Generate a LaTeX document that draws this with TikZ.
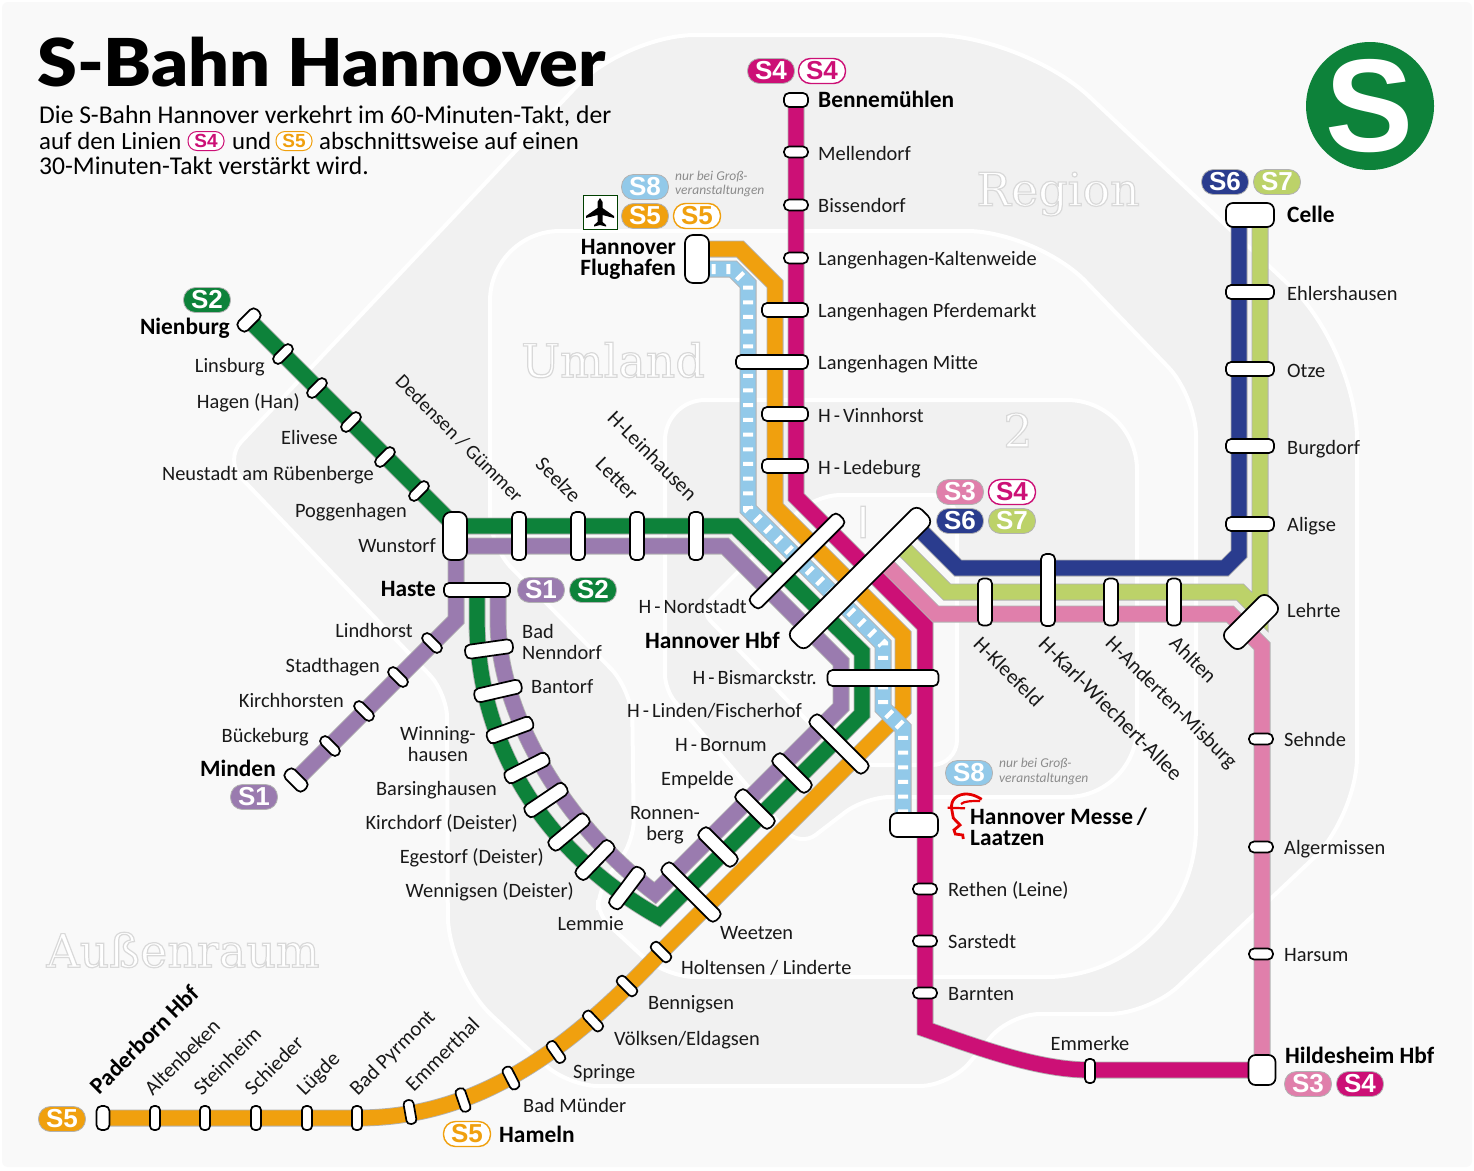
\documentclass[tikz,border=0pt]{standalone}
\usepackage{fontspec}
\setmainfont{Carlito}
\newfontfamily\pillfont{Liberation Sans}
\newfontfamily\zonefont{DejaVu Serif}
\newfontfamily\titlefont[FakeStretch=1.09]{Lato Black}
\newcommand{\Hy}{\kern3pt-\kern3pt}
\newcommand{\hollow}[1]{\special{pdf:code 2 Tr 1.2 w 0.85 G}#1\special{pdf:code 0 Tr}}
\definecolor{cS1}{HTML}{9A7BAF}
\definecolor{cS2}{HTML}{0D823A}
\definecolor{cS3}{HTML}{E07FAB}
\definecolor{cS4}{HTML}{CC1076}
\definecolor{cS5}{HTML}{F0A00E}
\definecolor{cS6}{HTML}{2A3C8E}
\definecolor{cS7}{HTML}{BCD269}
\definecolor{cS8}{HTML}{92C9E9}
\definecolor{zonedark}{HTML}{F1F1F1}
\definecolor{zonelight}{HTML}{F9F9F9}
\tikzset{
  zone/.style={draw=white,line width=4pt,fill=#1},
  zonename/.style={inner sep=0pt,text=white,font=\zonefont\fontsize{#1}{#1}\selectfont},
  casing/.style={draw=black!30,line width=17pt},
  strecke/.style={draw=#1,line width=15.3pt},
  s8dash/.style={draw=white,line width=10pt,dash pattern=on 4pt off 10.7pt},
  halt/.style 2 args={draw=black,line width=1.7pt,fill=white,rectangle,rounded corners=5pt,inner sep=0pt,minimum width=#1pt,minimum height=#2pt},
  pill/.style={rectangle,rounded corners=12pt,draw=black!30,line width=0.8pt,fill=#1,text=white,inner sep=0pt,minimum width=47pt,minimum height=25pt,font=\pillfont\bfseries\fontsize{26}{26}\selectfont},
  ring/.style={pill=white,draw=#1,line width=1.4pt,text=#1},
  minipill/.style={rectangle,rounded corners=9pt,draw=#1,line width=1pt,fill=white,text=#1,inner sep=0pt,minimum width=36pt,minimum height=19pt,font=\pillfont\bfseries\fontsize{19}{19}\selectfont},
  lbl/.style={inner sep=0pt,text=black!90,font=\fontsize{20.4}{20.4}\selectfont},
  lblb/.style={inner sep=0pt,text=black,font=\bfseries\fontsize{23.4}{23.4}\selectfont},
  rw/.style={lbl,anchor=base west,yshift=-7.5pt},
  re/.style={lbl,anchor=base east,yshift=-7.5pt},
  rc/.style={lbl,anchor=base,yshift=-7.5pt},
  bw/.style={lblb,anchor=base west,yshift=-7.5pt},
  be/.style={lblb,anchor=base east,yshift=-7.5pt},
  slant/.style={inner sep=0pt,anchor=mid west,text=black!90,font=\fontsize{21}{21}\selectfont},
  intro/.style={inner sep=0pt,anchor=base west,text=black,font=\fontsize{25.6}{25.6}\selectfont},
  introb/.style={intro,font=\fontsize{24.8}{24.8}\selectfont},
  hint/.style={inner sep=0pt,anchor=mid west,text=black!45,font=\itshape\fontsize{13.5}{13.5}\selectfont},
}
\newcommand{\linie}[2]{\draw[casing] #2; \draw[strecke=#1] #2;}
\begin{document}
\begin{tikzpicture}[x=1pt,y=-1pt,line join=miter]
\useasboundingbox (0,0) rectangle (1474,1170);
\fill[white] (0,0) rectangle (1474,1170);
\fill[zonelight,rounded corners=6pt] (2,2) rectangle (1472,1167);

% zones
\draw[zone=zonedark,rounded corners=70pt] (800,35) -- (625,35) [rounded corners=25pt] -- (224,460) -- (447,693) [rounded corners=60pt] -- (448,975) [rounded corners=30pt] -- (568,1086) -- (950,1086) -- (1010,1014) [rounded corners=40pt] -- (1149,1014) [rounded corners=60pt] -- (1357,817) [rounded corners=90pt] -- (1357,349) -- (1024,35) -- cycle;
\draw[zone=zonelight,rounded corners=70pt] (800,231) -- (490,231) [rounded corners=30pt] -- (490,546) -- (632,690) [rounded corners=20pt] -- (634,840) -- (598,890) [rounded corners=15pt] -- (598,915) [rounded corners=30pt] -- (665,977) [rounded corners=150pt] -- (1196,977) [rounded corners=40pt] -- (1196,396) [rounded corners=70pt] -- (1037,231) -- cycle;
\draw[zone=zonedark,rounded corners=40pt] (800,400) -- (665,400) [rounded corners=15pt] -- (665,690) [rounded corners=20pt] -- (800,847) [rounded corners=25pt] -- (865,797) [rounded corners=70pt] -- (1137,797) -- (1137,400) -- cycle;
\draw[zone=zonelight,rounded corners=25pt] (880,495) -- (957,495) -- (957,765) -- (850,765) [rounded corners=15pt] -- (700,610) [rounded corners=25pt] -- (815,495) -- cycle;

\node[zonename=46] (zregion) at (1058,194) {\hollow{Region}};
\node[zonename=46] (zumland) at (613,360) {\hollow{Umland}};
\node[zonename=46] (zaussen) at (183,950) {\hollow{Außenraum}};
\node[zonename=46] (zzwei) at (1018,430) {\hollow{2}};
\node[zonename=46,font=\pillfont\fontsize{46}{46}\selectfont] (zeins) at (863,522) {\hollow{I}};

% corner points of the lines
\coordinate (s5a) at (697,249);
\coordinate (s5b) at (740,249);
\coordinate (s5c) at (775,284);
\coordinate (s5d) at (775,507);
\coordinate (s5e) at (903,635);
\coordinate (s5f) at (903,710);
\coordinate (s5g) at (661,952);
\coordinate (s5h) at (357,1118);
\coordinate (s5i) at (103,1118);
\coordinate (s8a) at (697,269);
\coordinate (s8b) at (733,269);
\coordinate (s8c) at (748,284);
\coordinate (s8d) at (748,509);
\coordinate (s8e) at (883,644);
\coordinate (s8f) at (883,708);
\coordinate (s8g) at (903,728);
\coordinate (s8h) at (903,825);
\coordinate (s4a) at (796,100);
\coordinate (s4b) at (796,497);
\coordinate (s4c) at (925,626);
\coordinate (s4d) at (925,1029);
\coordinate (s4e) at (1090,1070);
\coordinate (s4f) at (1262,1070);
\coordinate (s2a) at (249,320);
\coordinate (s2b) at (455,526);
\coordinate (s2c) at (735,526);
\coordinate (s2d) at (862,652);
\coordinate (s2e) at (862,714);
\coordinate (s2f) at (659,917);
\coordinate (s2g) at (477,620);
\coordinate (s2h) at (477,590);
\coordinate (s1a) at (296,780);
\coordinate (s1b) at (456,620);
\coordinate (s1c) at (456,546);
\coordinate (s1d) at (725,546);
\coordinate (s1e) at (841,662);
\coordinate (s1f) at (841,707);
\coordinate (s1g) at (655,893);
\coordinate (s1h) at (498,620);
\coordinate (s1i) at (498,590);
\coordinate (s3a) at (885,564);
\coordinate (s3b) at (935,614);
\coordinate (s3c) at (1230,614);
\coordinate (s3d) at (1262,646);
\coordinate (s7a) at (897,542);
\coordinate (s7b) at (947,592);
\coordinate (s7c) at (1240,592);
\coordinate (s7d) at (1260,612);
\coordinate (s7e) at (1260,215);
\coordinate (s6a) at (915,525);
\coordinate (s6b) at (958,568);
\coordinate (s6c) at (1225,568);
\coordinate (s6d) at (1239,554);
\coordinate (s6e) at (1239,215);

% lines
\linie{cS6}{(s6a) -- (s6b) -- (s6c) -- (s6d) -- (s6e)}
\linie{cS7}{(s7e) -- (s7d) -- (s7c) -- (s7b) -- (s7a)}
\linie{cS3}{(s3a) -- (s3b) -- (s3c) -- (s3d) -- (s4f)}
\linie{cS4}{(s4a) -- (s4b) -- (s4c) -- (s4d) .. controls (985,1050) and (1040,1070) .. (s4e) -- (s4f)}
\linie{cS5}{(s5a) -- (s5b) -- (s5c) -- (s5d) -- (s5e) -- (s5f) -- (s5g) .. controls (560,1060) and (470,1118) .. (s5h) -- (s5i)}
\linie{cS8}{(s8a) -- (s8b) -- (s8c) -- (s8d) -- (s8e) -- (s8f) -- (s8g) -- (s8h)}
\draw[s8dash] (s8a) -- (s8b) -- (s8c) -- (s8d) -- (s8e) -- (s8f) -- (s8g) -- (s8h);
\linie{cS2}{(s2a) -- (s2b) -- (s2c) -- (s2d) -- (s2e) -- (s2f) .. controls (540,850) and (477,740) .. (s2g) -- (s2h)}
\linie{cS1}{(s1a) -- (s1b) -- (s1c) -- (s1d) -- (s1e) -- (s1f) -- (s1g) .. controls (565,825) and (498,715) .. (s1h) -- (s1i)}

% stations
\node[halt={24}{14}] (bennemuehlen) at (796,100) {};
\node[halt={24}{11}] (mellendorf) at (796,152) {};
\node[halt={24}{11}] (bissendorf) at (796,205) {};
\node[halt={24}{11}] (kaltenweide) at (796,258) {};
\node[halt={46}{14}] (pferdemarkt) at (785,310) {};
\node[halt={72}{14}] (mitte) at (772,362) {};
\node[halt={46}{14}] (vinnhorst) at (785,414) {};
\node[halt={46}{14}] (ledeburg) at (785,466) {};
\node[halt={24}{48},rounded corners=8pt] (flughafen) at (697,259) {};
\node[halt={48}{24},rounded corners=7pt] (celle) at (1250,215) {};
\foreach \nm/\y in {ehlershausen/292,otze/369,burgdorf/446,aligse/524}
  \node[halt={48}{14}] (\nm) at (1250,\y) {};
\node[halt={24}{48},rounded corners=8pt] (wunstorf) at (455,536) {};
\foreach \nm/\x in {dedensen/519,seelze/578,letter/637,leinhausen/696}
  \node[halt={14}{48}] (\nm) at (\x,536) {};
\node[halt={66}{14}] (haste) at (477,590) {};
\node[halt={48}{14},rotate=8] (nenndorf) at (489,649) {};
\node[halt={48}{14},rotate=13] (bantorf) at (498,691) {};
\node[halt={48}{14},rotate=20] (winninghausen) at (510,730) {};
\node[halt={48}{14},rotate=27] (barsinghausen) at (527,768) {};
\node[halt={48}{14},rotate=34] (kirchdorf) at (546,800) {};
\node[halt={48}{14},rotate=40] (egestorf) at (569,832) {};
\node[halt={48}{14},rotate=46] (wennigsen) at (595,860) {};
\node[halt={48}{14},rotate=53] (lemmie) at (627,888) {};
\node[halt={76}{14},rotate=-45] (weetzen) at (691,892) {};
\node[halt={48}{14},rotate=-45] (ronnenberg) at (718,847) {};
\node[halt={48}{14},rotate=-45] (empelde) at (755,809) {};
\node[halt={48}{14},rotate=-45] (bornum) at (792,773) {};
\node[halt={76}{14},rotate=-45] (linden) at (839,744) {};
\node[halt={111}{16}] (bismarckstr) at (883,678) {};
\node[halt={184}{24},rotate=45,rounded corners=8pt] (hbf) at (860,578) {};
\node[halt={125}{15},rotate=45] (nordstadt) at (797,561) {};
\node[halt={14}{47}] (kleefeld) at (985,602) {};
\node[halt={14}{72}] (wiechert) at (1048,590) {};
\node[halt={14}{47}] (anderten) at (1111,602) {};
\node[halt={14}{47}] (ahlten) at (1174,602) {};
\node[halt={62}{24},rotate=45,rounded corners=8pt] (lehrte) at (1251,622) {};
\foreach \nm/\y in {sehnde/739,algermissen/847,harsum/954}
  \node[halt={24}{11}] (\nm) at (1261,\y) {};
\node[halt={27}{30},rounded corners=7pt] (hildesheim) at (1262,1070) {};
\node[halt={10}{24},rounded corners=4pt] (emmerke) at (1090,1071) {};
\node[halt={48}{24},rounded corners=7pt] (messe) at (914,825) {};
\foreach \nm/\y in {rethen/889,sarstedt/941,barnten/993}
  \node[halt={24}{11}] (\nm) at (925,\y) {};
\node[halt={26}{13},rotate=45] (nienburg) at (249,320) {};
\foreach \nm/\x/\y in {linsburg/283/354,hagen/317/388,elivese/351/422,neustadt/385/457,poggenhagen/419/491}
  \node[halt={24}{10},rotate=45] (\nm) at (\x,\y) {};
\node[halt={26}{13},rotate=-45] (minden) at (296,780) {};
\foreach \nm/\x/\y in {lindhorst/432/643,stadthagen/398/677,kirchhorsten/364/711,bueckeburg/330/746}
  \node[halt={24}{10},rotate=-45] (\nm) at (\x,\y) {};
\node[halt={13}{24}] (paderborn) at (103,1118) {};
\foreach \nm/\x in {altenbeken/155,steinheim/205,schieder/256,luegde/307,pyrmont/357}
  \node[halt={10}{24},rounded corners=4pt] (\nm) at (\x,1118) {};
\foreach \nm/\x/\y/\r in {emmerthal/410/1112/-80,hameln/463/1100/-71,muender/511/1078/-63,springe/556/1052/-55,voelksen/593/1021/-47,bennigsen/627/986/-45,holtensen/661/952/-45}
  \node[halt={24}{10},rounded corners=4pt,rotate=\r] (\nm) at (\x,\y) {};

% badges
\node[pill=cS4] (p1) at (771,71) {S4};
\node[ring=cS4] (p2) at (822,71) {S4};
\node[pill=cS8] (p3) at (645,187) {S8};
\node[pill=cS5] (p4) at (645,216) {S5};
\node[ring=cS5] (p5) at (697,216) {S5};
\node[pill=cS6] (p6) at (1225,182) {S6};
\node[pill=cS7] (p7) at (1277,182) {S7};
\node[pill=cS3] (p8) at (960,492) {S3};
\node[ring=cS4] (p9) at (1012,492) {S4};
\node[pill=cS6] (p10) at (960,521) {S6};
\node[pill=cS7] (p11) at (1012,521) {S7};
\node[pill=cS8] (p12) at (969,773) {S8};
\node[pill=cS1] (p13) at (254,797) {S1};
\node[pill=cS2] (p14) at (207,300) {S2};
\node[pill=cS1] (p15) at (541,590) {S1};
\node[pill=cS2] (p16) at (593,590) {S2};
\node[pill=cS5] (p17) at (62,1119) {S5};
\node[ring=cS5] (p18) at (467,1134) {S5};
\node[pill=cS3] (p19) at (1308,1084) {S3};
\node[pill=cS4] (p20) at (1360,1084) {S4};

% head, plane and logo
\draw[red!90!black,line width=2.8pt] (981.7,799.3) .. controls (972,793) and (962,792) .. (955,798) .. controls (952,801) and (951.5,804) .. (951.5,808) -- (953.3,818) -- (960,825) -- (954,830) -- (955.3,834) -- (962.7,835) -- (963.3,839);
\draw[red!90!black,line width=2.2pt] (947.7,807.7) -- (965,808.3);
\draw[red!90!black,line width=2.2pt] (961,804) .. controls (964,801) and (972,801) .. (980,801);
\node[draw=black!75!green,line width=0.8pt,fill=white,minimum size=34pt,inner sep=0pt] (planebox) at (600,212) {};
\fill[black] (600,198) -- (602.5,202) -- (602.5,208) -- (614,216) -- (614,218) -- (602.5,215) -- (602.5,222) -- (606,225) -- (606,226.5) -- (600,225) -- (594,226.5) -- (594,225) -- (597.5,222) -- (597.5,215) -- (586,218) -- (586,216) -- (597.5,208) -- (597.5,202) -- cycle;
\node[circle,fill=cS2,minimum size=128pt,inner sep=0pt,text=white,font=\pillfont\bfseries\fontsize{132}{132}\selectfont] (logo) at (1370,106) {S};

% title and intro
\node[inner sep=0pt,anchor=base west,text=black,font=\titlefont\fontsize{66}{66}\selectfont] (title) at (37,86) {S-Bahn Hannover};
\node[intro] (intro1) at (39,123) {Die S-Bahn Hannover verkehrt im 60-Minuten-Takt, der};
\node[introb] (intro2) at (39,149) {auf den Linien};
\node[minipill=cS4] (intro3) at (206,141) {S4};
\node[introb] (intro4) at (232,149) {und};
\node[minipill=cS5] (intro5) at (294,141) {S5};
\node[introb] (intro6) at (319,149) {abschnittsweise auf einen};
\node[intro] (intro7) at (39,174) {30-Minuten-Takt verstärkt wird.};
\node[hint] (hint1) at (675,178) {nur bei Groß-};
\node[hint] (hint2) at (675,192) {veranstaltungen};
\node[hint] (hint3) at (999,765) {nur bei Groß-};
\node[hint] (hint4) at (999,780) {veranstaltungen};

% station names
\node[bw] (tbenne) at (818,100) {Bennemühlen};
\node[rw] (tmell) at (818,153) {Mellendorf};
\node[rw] (tbiss) at (818,205) {Bissendorf};
\node[rw] (tkalt) at (818,258) {Langenhagen-Kaltenweide};
\node[rw] (tpfer) at (818,310) {Langenhagen Pferdemarkt};
\node[rw] (tmitt) at (818,362) {Langenhagen Mitte};
\node[rw] (tvinn) at (818,415) {H\Hy Vinnhorst};
\node[rw] (tlede) at (818,467) {H\Hy Ledeburg};
\node[bw] (tcell) at (1287,215) {Celle};
\node[rw] (tehle) at (1287,293) {Ehlershausen};
\node[rw] (totze) at (1287,370) {Otze};
\node[rw] (tburg) at (1287,447) {Burgdorf};
\node[rw] (talig) at (1287,524) {Aligse};
\node[rw] (tlehr) at (1287,610) {Lehrte};
\node[rw] (tsehn) at (1284,739) {Sehnde};
\node[rw] (talge) at (1284,847) {Algermissen};
\node[rw] (tharm) at (1284,954) {Harsum};
\node[bw] (thild) at (1285,1056) {Hildesheim Hbf};
\node[rw] (treth) at (948,889) {Rethen (Leine)};
\node[rw] (tsars) at (948,941) {Sarstedt};
\node[rw] (tbarn) at (948,993) {Barnten};
\node[bw] (tmes1) at (970,817) {Hannover Messe\,/};
\node[bw] (tmes2) at (970,838) {Laatzen};
\node[rc] (temme) at (1090,1043) {Emmerke};
\node[be] (tnien) at (230,327) {Nienburg};
\node[re] (tlins) at (265,365) {Linsburg};
\node[re] (thage) at (300,401) {Hagen (Han)};
\node[re] (teliv) at (338,437) {Elivese};
\node[re] (tneus) at (374,473) {Neustadt am Rübenberge};
\node[re] (tpogg) at (407,510) {Poggenhagen};
\node[re] (twuns) at (436,545) {Wunstorf};
\node[be] (thast) at (436,589) {Haste};
\node[re] (tlind) at (413,630) {Lindhorst};
\node[re] (tstad) at (380,665) {Stadthagen};
\node[re] (tkirc) at (344,700) {Kirchhorsten};
\node[re] (tbuec) at (309,735) {Bückeburg};
\node[be] (tmind) at (276,769) {Minden};
\node[rw] (tbad1) at (522,631) {Bad};
\node[rw] (tbad2) at (522,652) {Nenndorf};
\node[rw] (tbant) at (531,686) {Bantorf};
\node[rc] (twin1) at (438,733) {Winning-};
\node[rc] (twin2) at (438,754) {hausen};
\node[re] (tbars) at (497,788) {Barsinghausen};
\node[re] (tkird) at (518,822) {Kirchdorf (Deister)};
\node[re] (tege) at (544,856) {Egestorf (Deister)};
\node[re] (twenn) at (574,890) {Wennigsen (Deister)};
\node[re] (tlemm) at (624,923) {Lemmie};
\node[rw] (tweet) at (720,932) {Weetzen};
\node[rw] (tholt) at (681,967) {Holtensen / Linderte};
\node[rw] (tbenn) at (648,1002) {Bennigsen};
\node[rw] (tvoel) at (614,1038) {Völksen/Eldagsen};
\node[rw] (tspri) at (573,1071) {Springe};
\node[rw] (tmuen) at (523,1105) {Bad Münder};
\node[bw] (thame) at (499,1135) {Hameln};
\node[re] (tnord) at (747,606) {H\Hy Nordstadt};
\node[be] (thbf) at (780,641) {Hannover Hbf};
\node[re] (tbism) at (817,677) {H\Hy Bismarckstr.};
\node[re] (tlnd) at (802,710) {H\Hy Linden/Fischerhof};
\node[re] (tborn) at (767,744) {H\Hy Bornum};
\node[re] (temp) at (734,778) {Empelde};
\node[rc] (tron1) at (665,812) {Ronnen-};
\node[rc] (tron2) at (665,833) {berg};
\node[be] (tflu1) at (676,247) {Hannover};
\node[be] (tflu2) at (676,268) {Flughafen};

\node[slant,rotate=-45,font=\fontsize{20}{20}\selectfont] (tdede) at (396,381) {Dedensen / Gümmer};
\node[slant,rotate=-45] (tseel) at (536,464) {Seelze};
\node[slant,rotate=-45] (tlett) at (596,464) {Letter};
\node[slant,rotate=-45] (tlein) at (608,418) {H-Leinhausen};
\node[slant,rotate=-45] (tklee) at (974,644) {H-Kleefeld};
\node[slant,rotate=-45,font=\fontsize{21.8}{21.8}\selectfont] (tkarl) at (1039,644) {H-Karl-Wiechert-Allee};
\node[slant,rotate=-45] (tande) at (1106,643) {H-Anderten-Misburg};
\node[slant,rotate=-45] (tahlt) at (1170,643) {Ahlten};
\node[lblb,rotate=45,anchor=mid west] (tpade) at (98,1094) {Paderborn Hbf};
\node[slant,rotate=45] (talte) at (151,1095) {Altenbeken};
\node[slant,rotate=45] (tstei) at (200,1095) {Steinheim};
\node[slant,rotate=45] (tschi) at (251,1095) {Schieder};
\node[slant,rotate=45] (tlueg) at (303,1095) {Lügde};
\node[slant,rotate=45] (tpyrm) at (356,1095) {Bad Pyrmont};
\node[slant,rotate=45] (temmt) at (412,1091) {Emmerthal};
\end{tikzpicture}
\end{document}
